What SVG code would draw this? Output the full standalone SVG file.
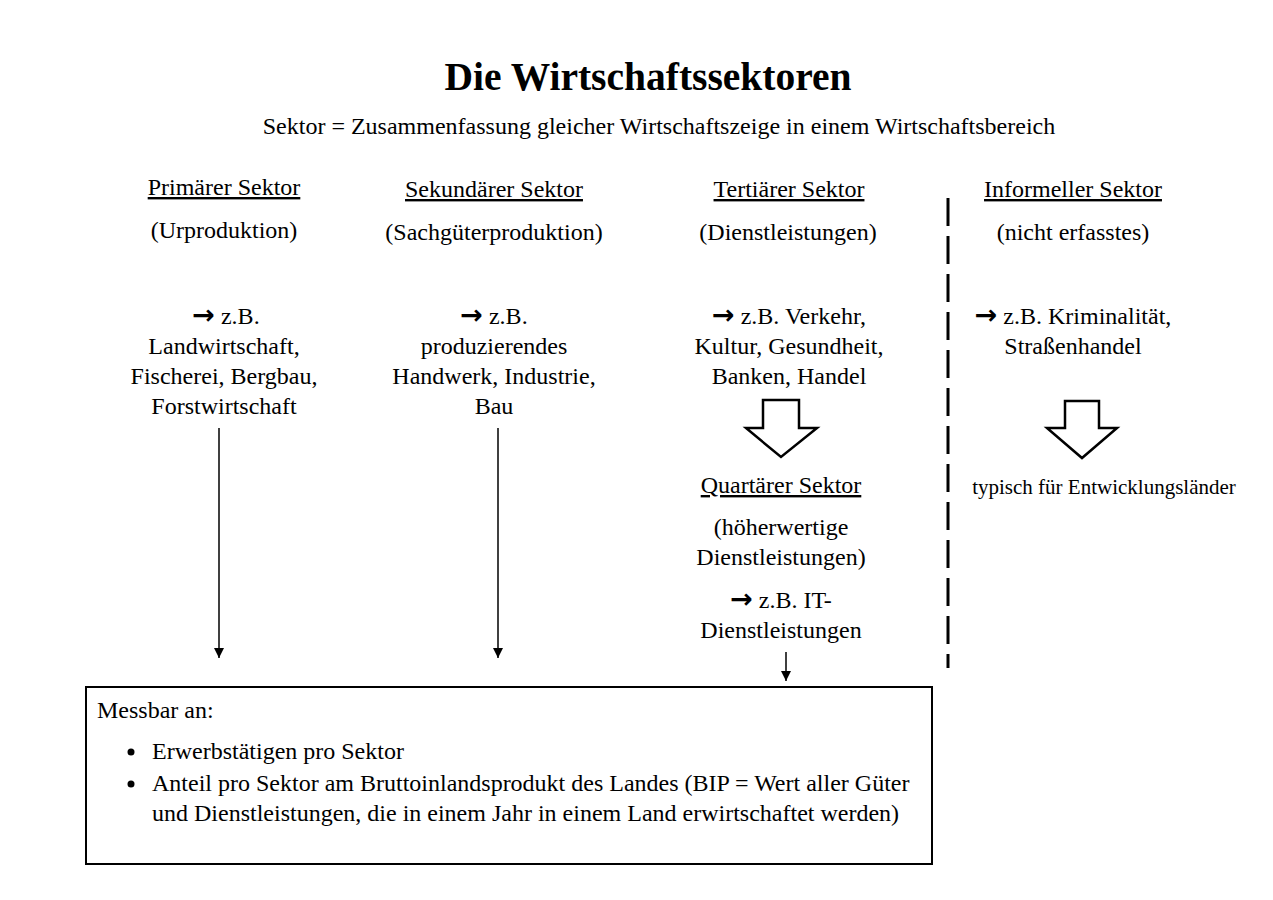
<svg xmlns="http://www.w3.org/2000/svg" width="1273" height="900" viewBox="0 0 1273 900">
<style>
text{font-family:"Liberation Serif","Times New Roman",serif;fill:#000;font-size:24px;}
.t{text-anchor:middle;}
.h{text-anchor:middle;text-decoration:underline;}
.ar{font-family:"DejaVu Sans",sans-serif;font-size:27px;font-weight:bold;}
.line{stroke:#000;stroke-width:1.5;fill:none;}
.blk{stroke:#000;stroke-width:2.5;fill:#fff;stroke-linejoin:miter;}
</style>
<defs>
<marker id="ah" markerWidth="10" markerHeight="10" refX="10" refY="5" orient="auto" markerUnits="userSpaceOnUse" viewBox="0 0 10 10">
<path d="M0,0 L10,5 L0,10 Z" fill="#000"/>
</marker>
</defs>
<rect width="1273" height="900" fill="#fff"/>
<g id="title">
<text x="648" y="90" style="font-size:39.5px;font-weight:bold;text-anchor:middle">Die Wirtschaftssektoren</text>
<text x="659" y="134" style="text-anchor:middle">Sektor = Zusammenfassung gleicher Wirtschaftszeige in einem Wirtschaftsbereich</text>
</g>
<g id="primaer">
<text class="h" x="224" y="195">Primärer Sektor</text>
<text class="t" x="224" y="238">(Urproduktion)</text>
<text class="t" x="226" y="324"><tspan class="ar">→</tspan> z.B.</text>
<text class="t" x="224" y="354">Landwirtschaft,</text>
<text class="t" x="224" y="384">Fischerei, Bergbau,</text>
<text class="t" x="224" y="414">Forstwirtschaft</text>
</g>
<g id="sekundaer">
<text class="h" x="494" y="197">Sekundärer Sektor</text>
<text class="t" x="494" y="240">(Sachgüterproduktion)</text>
<text class="t" x="494" y="324"><tspan class="ar">→</tspan> z.B.</text>
<text class="t" x="494" y="354">produzierendes</text>
<text class="t" x="494" y="384">Handwerk, Industrie,</text>
<text class="t" x="494" y="414">Bau</text>
</g>
<g id="tertiaer">
<text class="h" x="789" y="197">Tertiärer Sektor</text>
<text class="t" x="788" y="240">(Dienstleistungen)</text>
<text class="t" x="789" y="324"><tspan class="ar">→</tspan> z.B. Verkehr,</text>
<text class="t" x="789" y="354">Kultur, Gesundheit,</text>
<text class="t" x="789" y="384">Banken, Handel</text>
</g>
<g id="quartaer">
<text class="h" x="781" y="493">Quartärer Sektor</text>
<text class="t" x="781" y="535">(höherwertige</text>
<text class="t" x="781" y="565">Dienstleistungen)</text>
<text class="t" x="781" y="608"><tspan class="ar">→</tspan> z.B. IT-</text>
<text class="t" x="781" y="638">Dienstleistungen</text>
</g>
<g id="informell">
<text class="h" x="1073" y="197">Informeller Sektor</text>
<text class="t" x="1073" y="240">(nicht erfasstes)</text>
<text class="t" x="1073" y="324"><tspan class="ar">→</tspan> z.B. Kriminalität,</text>
<text class="t" x="1073" y="354">Straßenhandel</text>
<text x="1104" y="494" style="font-size:21px;text-anchor:middle">typisch für Entwicklungsländer</text>
</g>
<g id="messbar">
<rect x="86" y="687" width="846" height="177" fill="none" stroke="#000" stroke-width="2"/>
<text x="97" y="718">Messbar an:</text>
<circle cx="131" cy="752" r="3.5" fill="#000"/>
<circle cx="131" cy="784" r="3.5" fill="#000"/>
<text x="152" y="759">Erwerbstätigen pro Sektor</text>
<text x="152" y="791">Anteil pro Sektor am Bruttoinlandsprodukt des Landes (BIP = Wert aller Güter</text>
<text x="152" y="821">und Dienstleistungen, die in einem Jahr in einem Land erwirtschaftet werden)</text>
</g>
<g id="connectors">
<line class="line" x1="219" y1="428" x2="219" y2="658" marker-end="url(#ah)"/>
<line class="line" x1="498" y1="428" x2="498" y2="658" marker-end="url(#ah)"/>
<line class="line" x1="786" y1="652" x2="786" y2="681" marker-end="url(#ah)"/>
<path class="blk" d="M763,400 H799 V428 H817 L781,457 L746,428 H763 Z"/>
<path class="blk" d="M1065,401 H1099 V428 H1117 L1082,458 L1047,428 H1065 Z"/>
<line x1="948" y1="198" x2="948" y2="668" stroke="#000" stroke-width="3" stroke-dasharray="28 10"/>
</g>
</svg>
